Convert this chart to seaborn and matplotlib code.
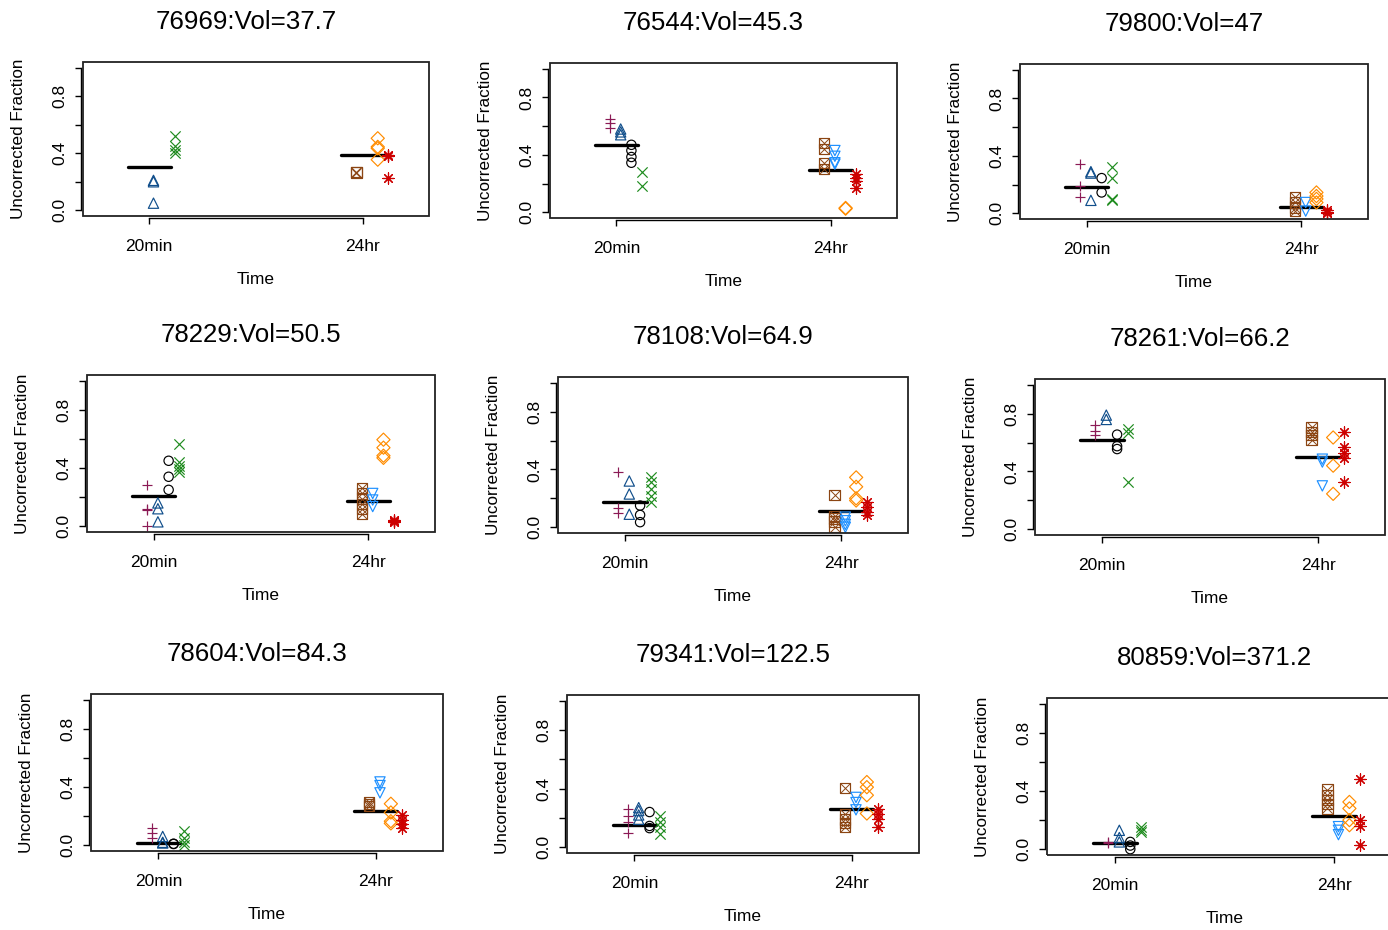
import numpy as np
import pandas as pd
import matplotlib.pyplot as plt
import seaborn as sns
from matplotlib.patches import Rectangle

# Style
sns.set_style("ticks")
plt.rcParams["font.family"] = ["Liberation Sans", "DejaVu Sans"]
plt.rcParams["text.color"] = "black"
plt.rcParams["axes.labelcolor"] = "black"
plt.rcParams["xtick.color"] = "black"
plt.rcParams["ytick.color"] = "black"

# Panel info
sample_ids = ["76969", "76544", "79800", "78229", "78108", "78261", "78604", "79341", "80859"]
volumes = ["37.7", "45.3", "47", "50.5", "64.9", "66.2", "84.3", "122.5", "371.2"]
time_labels = ["20min", "24hr"]
y_ticks = [0.0, 0.2, 0.4, 0.6, 0.8, 1.0]
y_tick_labels = ["0.0", "", "0.4", "", "0.8", ""]

# 20min replicates (one list per panel)
plus_20 = [[], [0.65, 0.62, 0.59], [0.34, 0.19, 0.11], [0.28, 0.12, 0.11, 0.0],
           [0.38, 0.13, 0.10], [0.72, 0.68, 0.65], [0.12, 0.085, 0.05],
           [0.26, 0.215, 0.17, 0.10], [0.05, 0.045]]
tri_20 = [[0.21, 0.20, 0.05], [0.58, 0.56, 0.54], [0.29, 0.28, 0.09], [0.16, 0.12, 0.03],
          [0.32, 0.23, 0.09], [0.79, 0.76], [0.06, 0.02, 0.015],
          [0.27, 0.25, 0.22, 0.19], [0.13, 0.08, 0.05]]
circle_20 = [[], [0.47, 0.43, 0.385, 0.345], [0.245, 0.145], [0.45, 0.34, 0.25],
             [0.15, 0.085, 0.035], [0.655, 0.575, 0.555], [0.01, 0.008],
             [0.24, 0.145, 0.13], [0.05, 0.025, 0.0]]
x_20 = [[0.52, 0.45, 0.42, 0.40], [0.28, 0.18], [0.32, 0.245, 0.10, 0.09],
        [0.565, 0.44, 0.415, 0.39, 0.37], [0.345, 0.31, 0.265, 0.215, 0.175],
        [0.695, 0.665, 0.325], [0.095, 0.05, 0.02, 0.0],
        [0.215, 0.175, 0.135, 0.09], [0.155, 0.13, 0.115]]
mean_20 = [0.305, 0.47, 0.18, 0.21, 0.175, 0.62, 0.012, 0.152, 0.04]

# 24hr replicates
boxx_24 = [[0.27, 0.265], [0.485, 0.44, 0.345, 0.30], [0.11, 0.075, 0.04, 0.015],
           [0.26, 0.225, 0.19, 0.155, 0.12, 0.085], [0.225, 0.08, 0.06, 0.04, 0.0],
           [0.705, 0.675, 0.65, 0.62], [0.295, 0.285, 0.27],
           [0.405, 0.225, 0.19, 0.165, 0.14], [0.41, 0.375, 0.34, 0.31, 0.28]]
invtri_24 = [[], [0.43, 0.39, 0.345, 0.335], [0.075, 0.015], [0.225, 0.18, 0.135],
             [0.07, 0.045, 0.02, 0.0], [0.485, 0.465, 0.30], [0.435, 0.41, 0.36],
             [0.34, 0.305, 0.255], [0.155, 0.13, 0.10]]
diamond_24 = [[0.505, 0.445, 0.435, 0.355], [0.03, 0.025], [0.145, 0.12, 0.10, 0.075],
              [0.595, 0.54, 0.485, 0.47], [0.345, 0.28, 0.20, 0.185], [0.635, 0.44, 0.245],
              [0.285, 0.225, 0.165, 0.15], [0.445, 0.41, 0.355, 0.23], [0.325, 0.28, 0.20, 0.165]]
star_24 = [[0.39, 0.38, 0.225], [0.265, 0.24, 0.22, 0.17], [0.02, 0.01, 0.0],
           [0.045, 0.035, 0.03], [0.175, 0.14, 0.105, 0.085], [0.67, 0.57, 0.53, 0.495, 0.33],
           [0.21, 0.175, 0.145, 0.12], [0.26, 0.23, 0.19, 0.135], [0.485, 0.20, 0.16, 0.03]]
mean_24 = [0.39, 0.297, 0.044, 0.17, 0.11, 0.50, 0.235, 0.26, 0.23]

# long table
rows = []
for name, vals, t in [("plus", plus_20, 0), ("tri", tri_20, 0), ("circle", circle_20, 0),
                      ("x", x_20, 0), ("boxx", boxx_24, 1), ("invtri", invtri_24, 1),
                      ("diamond", diamond_24, 1), ("star", star_24, 1)]:
    for p, pv in enumerate(vals):
        for v in pv:
            rows.append((p, name, time_labels[t], v))
df = pd.DataFrame(rows, columns=["panel", "group", "time", "value"])

# marker styles: offset, marker, colour, size, hollow
styles = {
    "plus": (-0.03, "+", "#8B1A55", 58, False),
    "tri": (0.02, "^", "#104E8B", 55, True),
    "circle": (0.07, "o", "black", 45, True),
    "x": (0.12, "x", "#1E8B1E", 55, False),
    "boxx": (-0.03, "s", "#8B4513", 55, True),
    "invtri": (0.02, "v", "#1E90FF", 55, True),
    "diamond": (0.07, "D", "#FF8C00", 45, True),
    "star": (0.12, (8, 2, 0), "#CD0000", 65, False),
}
df["x"] = df["time"].map({"20min": 1, "24hr": 2}) + df["group"].map({k: v[0] for k, v in styles.items()})

W, H = 1388, 930
boxes = [(83, 62, 429, 216), (550, 63, 897, 218), (1020, 64, 1368, 219),
         (87, 375, 435, 532), (558, 377, 908, 533), (1035, 379, 1385, 535),
         (91, 694, 443, 851), (567, 695, 919, 853), (1047, 698, 1402, 855)]

fig = plt.figure(figsize=(13.88, 9.30), dpi=100)

for i, (l, t, r, b) in enumerate(boxes):
    ax = fig.add_axes([l / W, 1 - b / H, (r - l) / W, (b - t) / H])
    d = df[df["panel"] == i]

    # group means
    ax.hlines([mean_20[i], mean_24[i]], [0.9, 1.9], [1.1, 2.1], color="black",
              lw=2.4, capstyle="round", zorder=2)

    for g, (off, m, c, s, hollow) in styles.items():
        sub = d[d["group"] == g]
        if sub.empty:
            continue
        if hollow:
            sns.scatterplot(data=sub, x="x", y="value", ax=ax, marker=m, s=s,
                            facecolor="none", edgecolor=c, linewidth=0.85, zorder=3)
        else:
            sns.scatterplot(data=sub, x="x", y="value", ax=ax, marker=m, s=s,
                            color=c, linewidth=0.85, zorder=3)
        if g == "boxx":
            sns.scatterplot(data=sub, x="x", y="value", ax=ax, marker="x", s=s,
                            color=c, linewidth=0.7, zorder=3)

    # R-like detached axes (set before ticks, set_position resets ticks)
    for sp in ["top", "right"]:
        ax.spines[sp].set_visible(False)
    ax.spines["left"].set_position(("outward", 1.5))
    ax.spines["bottom"].set_position(("outward", 1.5))
    for sp in ["left", "bottom"]:
        ax.spines[sp].set_linewidth(1.0)
        ax.spines[sp].set_color("black")

    ax.set_xlim(0.69, 2.31)
    ax.set_ylim(-0.04, 1.04)
    ax.spines["left"].set_bounds(0, 1)
    ax.spines["bottom"].set_bounds(1, 2)
    ax.set_xticks([1, 2])
    ax.set_xticklabels(time_labels)
    ax.set_yticks(y_ticks)
    ax.set_yticklabels(y_tick_labels, rotation=90, va="center")
    ax.tick_params(axis="both", length=4, width=1, color="black", labelsize=12.5)
    ax.tick_params(axis="x", pad=11)
    ax.tick_params(axis="y", pad=6)
    ax.set_xlabel("Time", fontsize=12.5, labelpad=13)
    ax.set_ylabel("Uncorrected Fraction", fontsize=12.3, labelpad=18.5)
    ax.set_title(f"{sample_ids[i]}:Vol={volumes[i]}", fontsize=18.6, pad=23.5,
                 x=0.5 - 10 / (r - l))

    ax.add_patch(Rectangle((0, 0), 1, 1, transform=ax.transAxes, fill=False,
                           lw=1.3, edgecolor="#222222", clip_on=False, zorder=5))

fig.savefig("out.png", dpi=100)
